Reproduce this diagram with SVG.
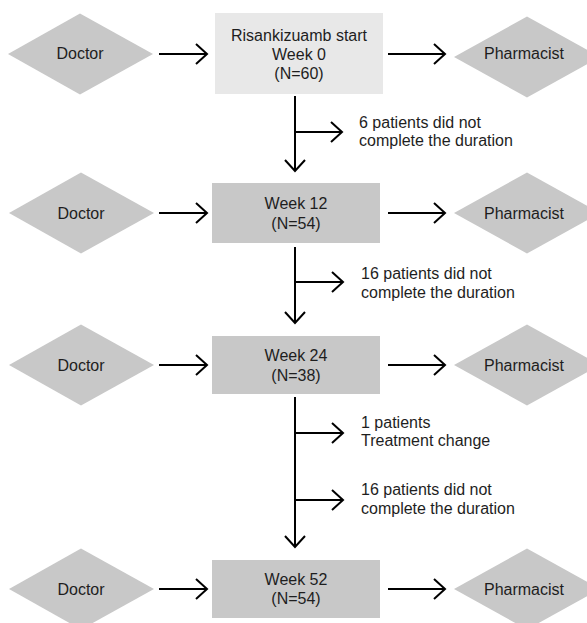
<svg xmlns="http://www.w3.org/2000/svg" width="587" height="623" viewBox="0 0 587 623">
<style>
.bg{fill:#ffffff}
.dia{fill:#c8c8c8}
.box{fill:#c8c8c8}
.box0{fill:#e8e8e8}
text{font-family:"Liberation Sans",Arial,sans-serif;font-size:16px;fill:#1e1e1e}
.c{text-anchor:middle}
.conn{stroke:#000;stroke-width:2;fill:none}
</style>
<defs>
<marker id="ah" markerUnits="userSpaceOnUse" markerWidth="24" markerHeight="24" viewBox="-12 -12 24 24" refX="0" refY="0" orient="auto">
<path d="M-11,-10 L0,0 L-11,10" fill="none" stroke="#000" stroke-width="2"/>
</marker>
</defs>
<rect class="bg" x="0" y="0" width="587" height="623"/>

<g id="doctor1"><polygon class="dia" points="8,54 80,13.5 153,54 80,94.5"/><text class="c" x="80" y="59">Doctor</text></g>
<g id="box1"><rect class="box0" x="215" y="13" width="168" height="81"/><text class="c" x="299" y="41">Risankizuamb start</text><text class="c" x="299" y="60">Week 0</text><text class="c" x="299" y="79">(N=60)</text></g>
<g id="pharm1"><polygon class="dia" points="454,57 527,16.5 600,57 527,97.5"/><text class="c" x="524" y="59">Pharmacist</text></g>

<g id="doctor2"><polygon class="dia" points="9,213 81,172.5 154,213 81,253.5"/><text class="c" x="81" y="219">Doctor</text></g>
<g id="box2"><rect class="box" x="212" y="183" width="168" height="60"/><text class="c" x="296" y="209">Week 12</text><text class="c" x="296" y="229">(N=54)</text></g>
<g id="pharm2"><polygon class="dia" points="454,213 527,172.5 600,213 527,253.5"/><text class="c" x="524" y="219">Pharmacist</text></g>

<g id="doctor3"><polygon class="dia" points="9,365 81,324.5 154,365 81,405.5"/><text class="c" x="81" y="371">Doctor</text></g>
<g id="box3"><rect class="box" x="212" y="336" width="168" height="58"/><text class="c" x="296" y="361">Week 24</text><text class="c" x="296" y="381">(N=38)</text></g>
<g id="pharm3"><polygon class="dia" points="454,365 527,324.5 600,365 527,405.5"/><text class="c" x="524" y="371">Pharmacist</text></g>

<g id="doctor4"><polygon class="dia" points="9,589 81,548.5 154,589 81,629.5"/><text class="c" x="81" y="595">Doctor</text></g>
<g id="box4"><rect class="box" x="212" y="560" width="168" height="58"/><text class="c" x="296" y="585">Week 52</text><text class="c" x="296" y="604">(N=54)</text></g>
<g id="pharm4"><polygon class="dia" points="454,589 527,548.5 600,589 527,629.5"/><text class="c" x="524" y="595">Pharmacist</text></g>

<g id="note1"><text x="359" y="128">6 patients did not</text><text x="359" y="146">complete the duration</text></g>
<g id="note2"><text x="361" y="279">16 patients did not</text><text x="361" y="298">complete the duration</text></g>
<g id="note3"><text x="361" y="428">1 patients</text><text x="361" y="446">Treatment change</text></g>
<g id="note4"><text x="361" y="495">16 patients did not</text><text x="361" y="514">complete the duration</text></g>

<g id="connectors" class="conn">
<line x1="159" y1="54" x2="207" y2="54" marker-end="url(#ah)"/>
<line x1="388" y1="54" x2="445" y2="54" marker-end="url(#ah)"/>
<line x1="159" y1="213" x2="207" y2="213" marker-end="url(#ah)"/>
<line x1="388" y1="213" x2="445" y2="213" marker-end="url(#ah)"/>
<line x1="159" y1="365" x2="207" y2="365" marker-end="url(#ah)"/>
<line x1="388" y1="365" x2="445" y2="365" marker-end="url(#ah)"/>
<line x1="159" y1="589" x2="207" y2="589" marker-end="url(#ah)"/>
<line x1="388" y1="589" x2="445" y2="589" marker-end="url(#ah)"/>
<line x1="295" y1="96" x2="295" y2="171" marker-end="url(#ah)"/>
<line x1="295" y1="132" x2="342" y2="132" marker-end="url(#ah)"/>
<line x1="295" y1="247" x2="295" y2="323" marker-end="url(#ah)"/>
<line x1="295" y1="282" x2="343" y2="282" marker-end="url(#ah)"/>
<line x1="295" y1="397" x2="295" y2="547" marker-end="url(#ah)"/>
<line x1="295" y1="433" x2="343" y2="433" marker-end="url(#ah)"/>
<line x1="295" y1="500" x2="343" y2="500" marker-end="url(#ah)"/>
</g>
</svg>
